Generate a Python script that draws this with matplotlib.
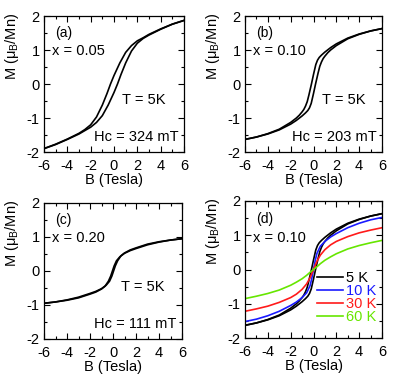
import matplotlib
matplotlib.use('Agg')
import matplotlib.pyplot as plt
from matplotlib.ticker import MultipleLocator

plt.rcParams['font.family'] = ['Liberation Sans', 'DejaVu Sans']
plt.rcParams['mathtext.fontset'] = 'custom'
plt.rcParams['mathtext.rm'] = 'Liberation Sans'
plt.rcParams['mathtext.it'] = 'Liberation Sans'
plt.rcParams['axes.unicode_minus'] = False

# field sweep up (-6 -> 6) and down (6 -> -6), Tesla
# (a) x = 0.05
Ba_up = [-6, -5, -4, -3, -2.5, -2, -1.5, -1, -0.5, 0, 0.3, 0.6, 1, 1.5, 2, 2.5, 3, 4, 5, 6]
Ma_up = [-1.9, -1.78, -1.63, -1.47, -1.37, -1.27, -1.13, -0.93, -0.62, -0.25, 0, 0.28, 0.62, 0.97, 1.2, 1.34, 1.44, 1.61, 1.76, 1.87]
Ba_dn = [6, 5, 4, 3, 2.5, 2, 1.5, 1, 0.5, 0, -0.3, -0.6, -1, -1.5, -2, -2.5, -3, -4, -5, -6]
Ma_dn = [1.87, 1.76, 1.62, 1.46, 1.36, 1.27, 1.13, 0.93, 0.62, 0.25, 0, -0.28, -0.62, -0.97, -1.2, -1.34, -1.45, -1.62, -1.77, -1.9]

# (b) x = 0.10
Bb_up = [-6, -5, -4, -3, -2, -1.5, -1, -0.7, -0.5, -0.35, -0.2, 0, 0.18, 0.4, 0.55, 0.7, 0.85, 1, 1.25, 1.5, 2, 3, 4, 5, 6]
Mb_up = [-1.63, -1.56, -1.47, -1.35, -1.18, -1.07, -0.94, -0.85, -0.78, -0.7, -0.57, -0.28, 0, 0.32, 0.52, 0.65, 0.75, 0.82, 0.92, 1.0, 1.13, 1.33, 1.46, 1.56, 1.63]
Bb_dn = [6, 5, 4, 3, 2, 1.5, 1, 0.7, 0.5, 0.35, 0.2, 0, -0.18, -0.4, -0.55, -0.7, -0.85, -1, -1.25, -1.5, -2, -3, -4, -5, -6]
Mb_dn = [1.63, 1.56, 1.47, 1.35, 1.18, 1.07, 0.94, 0.85, 0.78, 0.7, 0.57, 0.28, 0, -0.32, -0.52, -0.65, -0.75, -0.82, -0.92, -1.0, -1.13, -1.33, -1.46, -1.56, -1.63]

# (c) x = 0.20
Bc_up = [-6, -5, -4, -3, -2, -1.5, -1, -0.6, -0.3, -0.1, 0.05, 0.2, 0.4, 0.7, 1, 1.5, 2, 3, 4, 5, 6]
Mc_up = [-0.95, -0.91, -0.85, -0.77, -0.66, -0.6, -0.52, -0.42, -0.3, -0.15, 0, 0.15, 0.3, 0.45, 0.53, 0.62, 0.68, 0.79, 0.86, 0.91, 0.95]
Bc_dn = [6, 5, 4, 3, 2, 1.5, 1, 0.6, 0.3, 0.1, -0.05, -0.2, -0.4, -0.7, -1, -1.5, -2, -3, -4, -5, -6]
Mc_dn = [0.95, 0.91, 0.85, 0.77, 0.66, 0.6, 0.52, 0.42, 0.3, 0.15, 0, -0.15, -0.3, -0.45, -0.53, -0.62, -0.68, -0.79, -0.86, -0.91, -0.95]

# (d) x = 0.10, temperature dependence
Bd = [-6, -5, -4, -3, -2, -1.5, -1, -0.6, -0.3, -0.15, 0, 0.15, 0.3, 0.6, 1, 1.5, 2, 3, 4, 5, 6]
M10 = [-1.52, -1.45, -1.35, -1.22, -1.05, -0.95, -0.82, -0.68, -0.47, -0.26, 0, 0.26, 0.47, 0.68, 0.82, 0.95, 1.05, 1.22, 1.35, 1.45, 1.52]
M30 = [-1.22, -1.15, -1.07, -0.96, -0.82, -0.72, -0.58, -0.42, -0.24, -0.12, 0, 0.12, 0.24, 0.42, 0.58, 0.72, 0.82, 0.96, 1.07, 1.15, 1.22]
M60 = [-0.85, -0.78, -0.7, -0.6, -0.46, -0.37, -0.27, -0.17, -0.08, -0.04, 0, 0.04, 0.08, 0.17, 0.27, 0.37, 0.46, 0.6, 0.7, 0.78, 0.85]

temps = ['5 K', '10 K', '30 K', '60 K']
colors = ['black', '#1a1aff', '#ff1a1a', '#66e600']

fig = plt.figure(figsize=(4.15, 3.77), dpi=100)
W, H = 415, 377
# axes boxes in pixels: left, top, right, bottom
boxes = [(44, 16, 184, 152), (245, 16, 382, 152), (44, 203, 182, 339), (245, 201, 382, 338)]
axs = []
for l, t, r, b in boxes:
    axs.append(fig.add_axes([l / W, 1 - b / H, (r - l) / W, (b - t) / H]))

for i, ax in enumerate(axs):
    ax.set_xlim(-6, 6)
    ax.set_ylim(-2, 2)
    ax.xaxis.set_major_locator(MultipleLocator(2))
    ax.xaxis.set_minor_locator(MultipleLocator(1))
    ax.yaxis.set_major_locator(MultipleLocator(1))
    ax.yaxis.set_minor_locator(MultipleLocator(0.5))
    ax.tick_params(which='both', direction='in', top=True, right=True, labelsize=10.5, width=0.8)
    ax.tick_params(which='major', length=4)
    ax.tick_params(which='minor', length=2)
    ax.tick_params(axis='x', pad=5)
    ax.tick_params(axis='y', pad=3)
    for s in ax.spines.values():
        s.set_linewidth(0.9)
    ax.set_xlabel('B (Tesla)', fontsize=10.5, labelpad=0)
    ax.set_ylabel('M (μ$_\\mathrm{B}$/Mn)', fontsize=10.5)
    ax.yaxis.set_label_coords(-0.165 if i % 2 == 0 else -0.17, 0.78)

loops = [(Ba_up, Ma_up, Ba_dn, Ma_dn), (Bb_up, Mb_up, Bb_dn, Mb_dn), (Bc_up, Mc_up, Bc_dn, Mc_dn)]
tags = ['(a)', '(b)', '(c)']
xs = ['x = 0.05', 'x = 0.10', 'x = 0.20']
hcs = ['Hc = 324 mT', 'Hc = 203 mT', 'Hc = 111 mT']
for ax, lp, tag, xv, hc in zip(axs[:3], loops, tags, xs, hcs):
    ax.plot(lp[0], lp[1], color='black', lw=1.2)
    ax.plot(lp[2], lp[3], color='black', lw=1.2)
    ax.text(0.08, 0.875, tag, transform=ax.transAxes, fontsize=10, va='center')
    ax.text(0.06, 0.74, xv, transform=ax.transAxes, fontsize=10.5, va='center')
    ax.text(0.56, 0.38, 'T = 5K', transform=ax.transAxes, fontsize=10.5, va='center')
    ax.text(0.96, 0.11, hc, transform=ax.transAxes, fontsize=10.5, va='center', ha='right')

ax = axs[3]
l5a, = ax.plot(Bb_up, Mb_up, color=colors[0], lw=1.2)
ax.plot(Bb_dn, Mb_dn, color=colors[0], lw=1.2)
l10, = ax.plot(Bd, M10, color=colors[1], lw=1.2)
l30, = ax.plot(Bd, M30, color=colors[2], lw=1.2)
l60, = ax.plot(Bd, M60, color=colors[3], lw=1.2)
ax.text(0.08, 0.87, '(d)', transform=ax.transAxes, fontsize=10, va='center')
ax.text(0.06, 0.73, 'x = 0.10', transform=ax.transAxes, fontsize=10.5, va='center')
leg = ax.legend([l5a, l10, l30, l60], temps, loc='lower right', bbox_to_anchor=(1.0, 0.06),
                frameon=False, fontsize=10.5, handlelength=1.8, handletextpad=0.2,
                labelspacing=-0.08, borderaxespad=0.0, labelcolor=colors)

fig.savefig('out.png', dpi=100)
